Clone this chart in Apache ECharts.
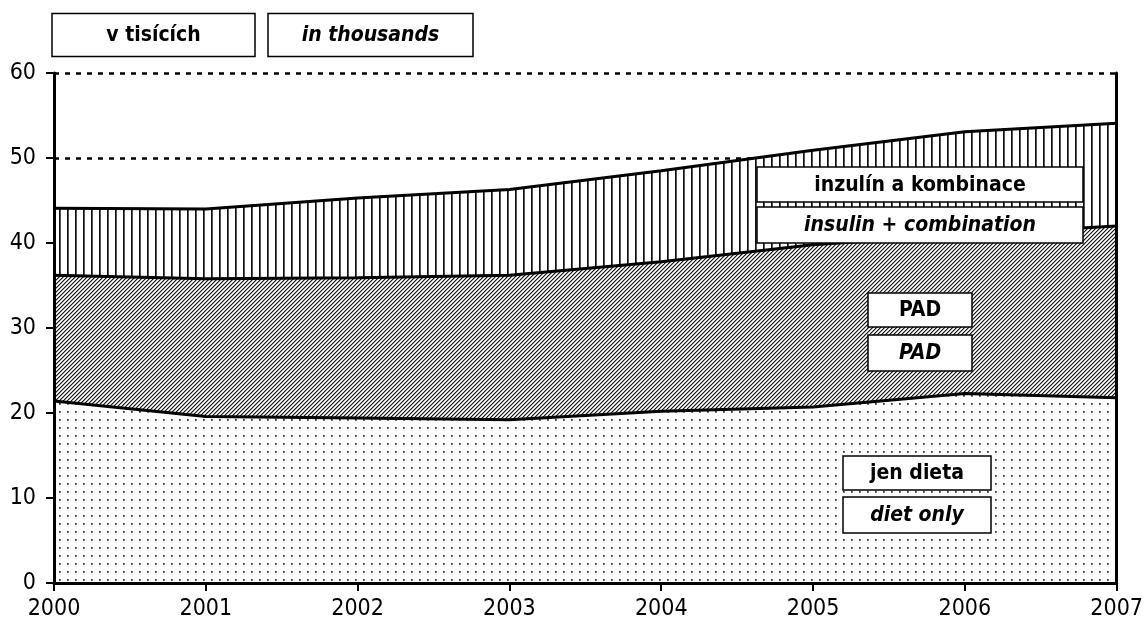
<!DOCTYPE html>
<html>
<head>
<meta charset="utf-8">
<script src="https://cdn.jsdelivr.net/npm/echarts@6/dist/echarts.min.js"></script>
<style>
html,body{margin:0;padding:0;background:#fff;}
#chart{width:1146px;height:634px;}
</style>
</head>
<body>
<div id="chart"></div>
<script>
// ---- data (values in thousands) ----
var years = ['2000','2001','2002','2003','2004','2005','2006','2007'];
var dietOnly = [21.4, 19.6, 19.4, 19.2, 20.2, 20.7, 22.3, 21.8];
var pad      = [14.8, 16.2, 16.5, 17.0, 17.6, 19.1, 18.7, 20.2];
var insulin  = [ 7.9,  8.2,  9.4, 10.1, 10.7, 11.1, 12.1, 12.1];
var yTicks   = [0, 10, 20, 30, 40, 50, 60];

var FONT = '"DejaVu Sans Condensed", "Liberation Sans Narrow", "Arial Narrow", sans-serif';

function makePattern(w, h, draw) {
  var c = document.createElement('canvas');
  c.width = w; c.height = h;
  var ctx = c.getContext('2d');
  ctx.fillStyle = '#fff';
  ctx.fillRect(0, 0, w, h);
  draw(ctx);
  return { image: c, repeat: 'repeat' };
}
var dotPattern = makePattern(8, 8, function (ctx) {
  ctx.fillStyle = '#777';
  ctx.fillRect(3, 3, 2, 2);
  ctx.fillStyle = '#222';
  ctx.fillRect(3, 3, 1, 1);
});
var diagPattern = makePattern(4, 4, function (ctx) {
  for (var x = 0; x < 4; x++) {
    for (var y = 0; y < 4; y++) {
      var k = (x + y) % 4;
      if (k === 3) { ctx.fillStyle = '#1a1a1a'; ctx.fillRect(x, y, 1, 1); }
      else if (k === 0) { ctx.fillStyle = '#9a9a9a'; ctx.fillRect(x, y, 1, 1); }
      else if (k === 2) { ctx.fillStyle = '#d4d4d4'; ctx.fillRect(x, y, 1, 1); }
    }
  }
});
var vertPattern = makePattern(8, 4, function (ctx) {
  ctx.fillStyle = '#111';
  ctx.fillRect(3, 0, 1, 4);
  ctx.fillStyle = '#555';
  ctx.fillRect(4, 0, 1, 4);
});

function box(x, y, w, h, text, italic) {
  return {
    type: 'group',
    children: [
      { type: 'rect', shape: { x: x, y: y, width: w, height: h },
        style: { fill: '#fff', stroke: '#000', lineWidth: 1.5 }, z: 100 },
      { type: 'text', x: x + w / 2, y: y + h / 2 + 1,
        style: { text: text, fill: '#000', font: (italic ? 'italic ' : '') + 'bold 21px ' + FONT,
                 textAlign: 'center', textVerticalAlign: 'middle' }, z: 101 }
    ]
  };
}

var chart = echarts.init(document.getElementById('chart'), null, { renderer: 'canvas' });
var option = {
  animation: false,
  backgroundColor: '#fff',
  grid: { left: 54, right: 25, top: 73, bottom: 51, containLabel: false },
  xAxis: [{
    type: 'category', data: years, boundaryGap: false,
    axisLine: { lineStyle: { color: '#000', width: 3 } },
    axisTick: { show: true, length: 8, lineStyle: { color: '#000', width: 2 } },
    axisLabel: { color: '#000', fontSize: 23, fontFamily: FONT, margin: 15 },
    splitLine: { show: false }, z: 10
  }],
  yAxis: [{
    // grid lines only, under the areas
    type: 'value', min: 0, max: 60, interval: 10, position: 'left',
    axisLine: { show: false }, axisTick: { show: false }, axisLabel: { show: false },
    splitLine: { show: true, lineStyle: { color: '#000', width: 2.5, type: [5, 6] } },
    z: 0
  }, {
    // visible left axis, above the areas
    type: 'value', min: 0, max: 60, interval: 10, position: 'left',
    axisLine: { show: true, onZero: false, lineStyle: { color: '#000', width: 3 } },
    axisTick: { show: true, length: 8, lineStyle: { color: '#000', width: 2 } },
    axisLabel: { color: '#000', fontSize: 23, fontFamily: FONT, margin: 18,
      formatter: function (v) { return yTicks.indexOf(v) >= 0 ? String(v) : ''; } },
    splitLine: { show: false },
    z: 10
  }, {
    type: 'value', min: 0, max: 60, interval: 10, position: 'right',
    axisLine: { show: true, onZero: false, lineStyle: { color: '#000', width: 3 } },
    axisTick: { show: false }, axisLabel: { show: false }, splitLine: { show: false },
    z: 10
  }],
  series: [
    { name: 'jen dieta', type: 'line', stack: 'a', data: dietOnly, symbol: 'none', yAxisIndex: 0,
      lineStyle: { color: '#000', width: 3 }, areaStyle: { color: dotPattern, opacity: 1 } },
    { name: 'PAD', type: 'line', stack: 'a', data: pad, symbol: 'none', yAxisIndex: 0,
      lineStyle: { color: '#000', width: 3 }, areaStyle: { color: diagPattern, opacity: 1 } },
    { name: 'inzulín a kombinace', type: 'line', stack: 'a', data: insulin, symbol: 'none', yAxisIndex: 0,
      lineStyle: { color: '#000', width: 3 }, areaStyle: { color: vertPattern, opacity: 1 } }
  ],
  graphic: [
    box(52, 13.5, 203, 43, 'v tisících', false),
    box(268, 13.5, 205, 43, 'in thousands', true),
    box(757, 167, 326, 35, 'inzulín a kombinace', false),
    box(757, 207, 326, 36, 'insulin + combination', true),
    box(868, 293, 104, 34, 'PAD', false),
    box(868, 335, 104, 36, 'PAD', true),
    box(843, 456, 148, 34, 'jen dieta', false),
    box(843, 497, 148, 36, 'diet only', true)
  ]
};
chart.setOption(option);
</script>
</body>
</html>
